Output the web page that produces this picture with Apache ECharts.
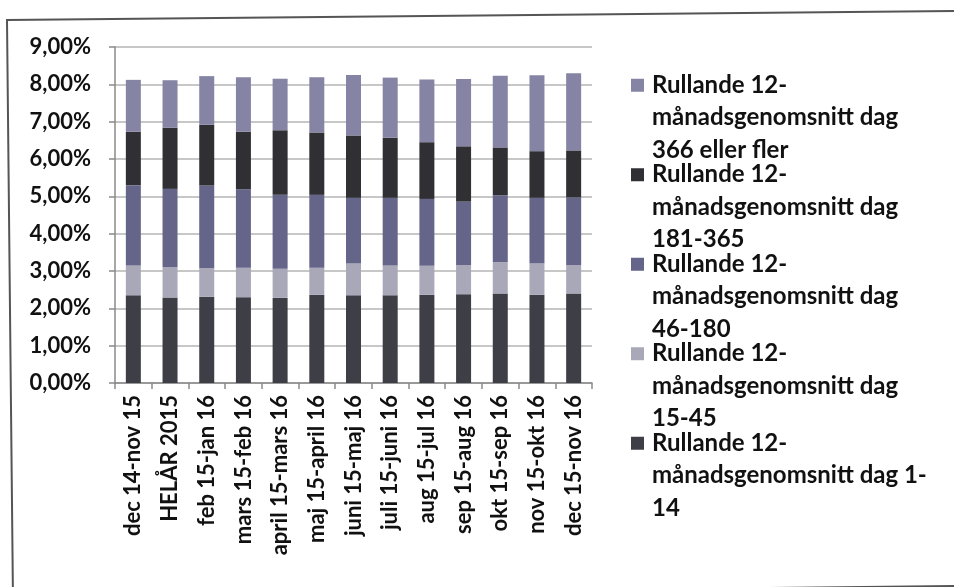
<!DOCTYPE html>
<html><head><meta charset="utf-8">
<script src="https://cdn.jsdelivr.net/npm/echarts@6/dist/echarts.min.js"></script>
<style>html,body{margin:0;padding:0;background:#fff}#c{width:954px;height:587px}</style>
</head><body><div id="c"></div>
<script>
const categories = ["dec 14-nov 15","HELÅR 2015","feb 15-jan 16","mars 15-feb 16","april 15-mars 16","maj 15-april 16","juni 15-maj 16","juli 15-juni 16","aug 15-jul 16","sep 15-aug 16","okt 15-sep 16","nov 15-okt 16","dec 15-nov 16"];
const dag1_14    = [2.35,2.29,2.31,2.30,2.28,2.36,2.35,2.35,2.36,2.38,2.40,2.36,2.40];
const dag15_45   = [0.80,0.81,0.77,0.79,0.78,0.73,0.85,0.80,0.78,0.78,0.84,0.85,0.76];
const dag46_180  = [2.15,2.10,2.21,2.10,1.98,1.95,1.76,1.81,1.79,1.70,1.79,1.75,1.81];
const dag181_365 = [1.43,1.64,1.63,1.54,1.73,1.67,1.67,1.61,1.52,1.48,1.28,1.25,1.26];
const dag366     = [1.39,1.27,1.30,1.46,1.38,1.48,1.62,1.61,1.68,1.80,1.92,2.03,2.07];
const yTicks = [0,1,2,3,4,5,6,7,8,9];

const names = [
  "Rullande 12-\nmånadsgenomsnitt dag 1-\n14",
  "Rullande 12-\nmånadsgenomsnitt dag\n15-45",
  "Rullande 12-\nmånadsgenomsnitt dag\n46-180",
  "Rullande 12-\nmånadsgenomsnitt dag\n181-365",
  "Rullande 12-\nmånadsgenomsnitt dag\n366 eller fler"
];
const colors = ["#3e3e47","#a9a8b9","#65658a","#2f2f34","#8584a4"];
const datas = [dag1_14, dag15_45, dag46_180, dag181_365, dag366];
const FONT = "Lato";

const chart = echarts.init(document.getElementById('c'));
chart.setOption({
  animation:false,
  backgroundColor:'#fff',
  textStyle:{fontFamily:FONT},
  grid:{left:115,right:362,top:47,bottom:204,containLabel:false},
  xAxis:{type:'category',data:categories,
    axisLine:{lineStyle:{color:'#8a8a8a',width:1.5}},
    axisTick:{show:true,length:6,lineStyle:{color:'#8a8a8a',width:1.5}},
    axisLabel:{rotate:90,margin:12,color:'#111',fontFamily:FONT,fontWeight:'bold',fontSize:22,interval:0}
  },
  yAxis:{type:'value',min:yTicks[0],max:yTicks[yTicks.length-1],interval:1,
    axisLine:{show:true,lineStyle:{color:'#8a8a8a',width:1.5}},
    axisTick:{show:true,length:6,lineStyle:{color:'#8a8a8a',width:1.5}},
    splitLine:{lineStyle:{color:'#b4b4b4',width:1.5}},
    axisLabel:{margin:24,color:'#111',fontFamily:FONT,fontWeight:'bold',fontSize:22,
      formatter:v=>v.toFixed(2).replace('.',',')+'%'}
  },
  legend:{orient:'vertical',left:631,top:4,padding:0,itemGap:-73,itemWidth:13,itemHeight:13,icon:'rect',
    data:[names[4],names[3],names[2],names[1],names[0]],
    formatter:n=>'\n\n'+n,
    textStyle:{fontFamily:FONT,fontWeight:'bold',fontSize:24,color:'#111',lineHeight:32.5,padding:[0,0,0,3]}
  },
  graphic:[
    {type:'polyline',shape:{points:[[13,600],[7,20],[960,11]]},style:{stroke:'#555',lineWidth:2,fill:null}},
    {type:'line',shape:{x1:13,y1:596,x2:960,y2:586},style:{stroke:'#555',lineWidth:2}}
  ],
  series: datas.map((d,i)=>({name:names[i],type:'bar',stack:'s',barWidth:15,data:d,itemStyle:{color:colors[i]}}))
});
</script></body></html>
